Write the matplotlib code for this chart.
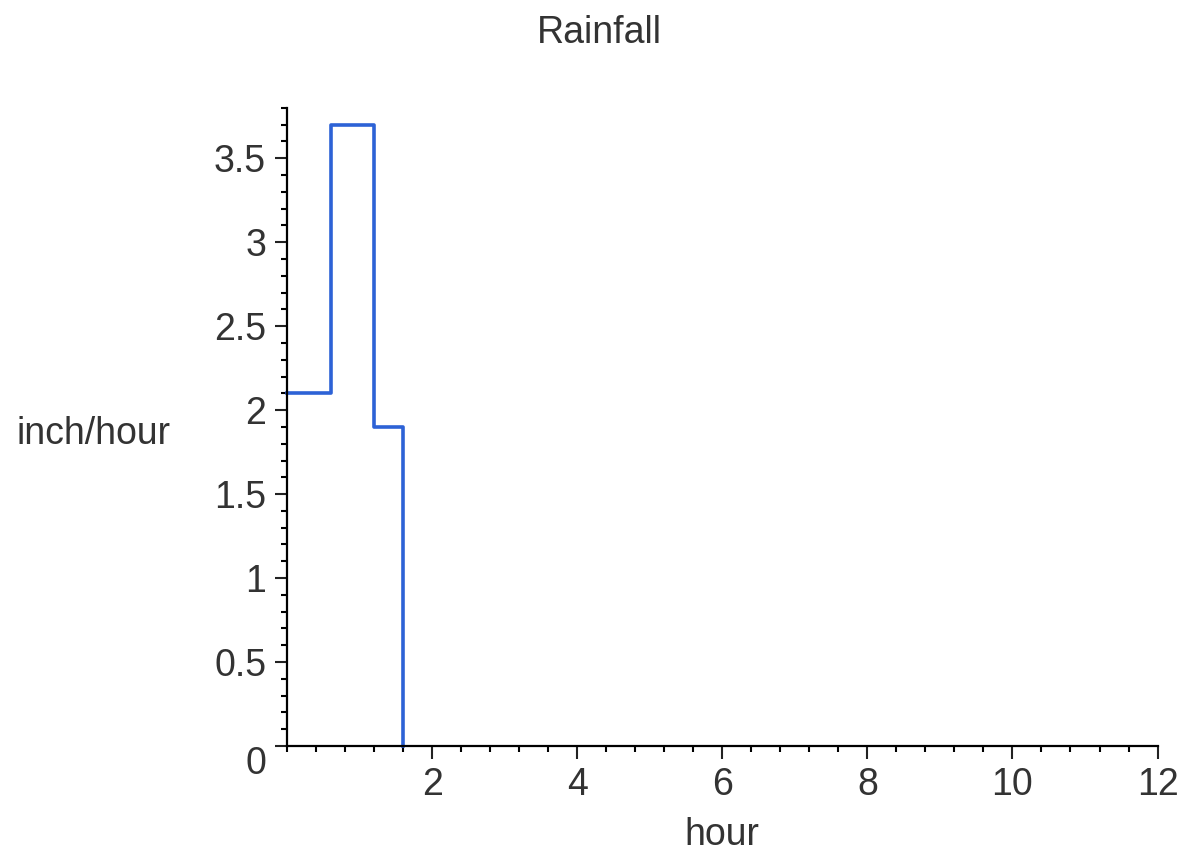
import matplotlib
matplotlib.use("Agg")
import matplotlib.pyplot as plt
from matplotlib.ticker import MultipleLocator

plt.rcParams['font.family'] = ['Liberation Sans', 'DejaVu Sans']

# rainfall intensity over time
hour_edges = [0, 0.6, 1.2, 1.6]
rate = [2.1, 3.7, 1.9]
x_ticks = [2, 4, 6, 8, 10, 12]
y_ticks = [0, 0.5, 1, 1.5, 2, 2.5, 3, 3.5]

fig = plt.figure(figsize=(11.86, 8.56), dpi=100)
ax = fig.add_axes([0.242, 0.1285, 0.734, 0.7455])

# step line drops to zero at the end of the last interval
ax.plot(hour_edges, rate + [0], drawstyle='steps-post', color='#2d62d6',
        linewidth=2.6, clip_on=False, zorder=3)

ax.set_xlim(0, 12)
ax.set_ylim(0, 3.8)
ax.spines['top'].set_visible(False)
ax.spines['right'].set_visible(False)
for s in ('left', 'bottom'):
    ax.spines[s].set_linewidth(1.6)
    ax.spines[s].set_zorder(4)

ax.set_xticks(x_ticks)
ax.set_xticklabels([str(v) for v in x_ticks])
ax.set_yticks(y_ticks)
ax.set_yticklabels(['0', '0.5', '1', '1.5', '2', '2.5', '3', '3.5'])
ax.xaxis.set_minor_locator(MultipleLocator(0.4))
ax.yaxis.set_minor_locator(MultipleLocator(0.1))
ax.tick_params(which='major', direction='out', length=9, width=1.5,
               labelsize=27, pad=6, colors='#222222', labelcolor='#333333')
ax.tick_params(which='minor', direction='out', length=4, width=1.5)
ax.get_yticklabels()[0].set_va('top')

ax.set_xlabel('hour', fontsize=27, labelpad=10, color='#333333')
ax.set_ylabel('inch/hour', fontsize=27, rotation=0, color='#333333')
ax.yaxis.set_label_coords(-0.222, 0.46)
fig.text(0.505, 0.962, 'Rainfall', fontsize=27, ha='center', va='center',
         color='#333333')

fig.savefig('out.png', dpi=100)
